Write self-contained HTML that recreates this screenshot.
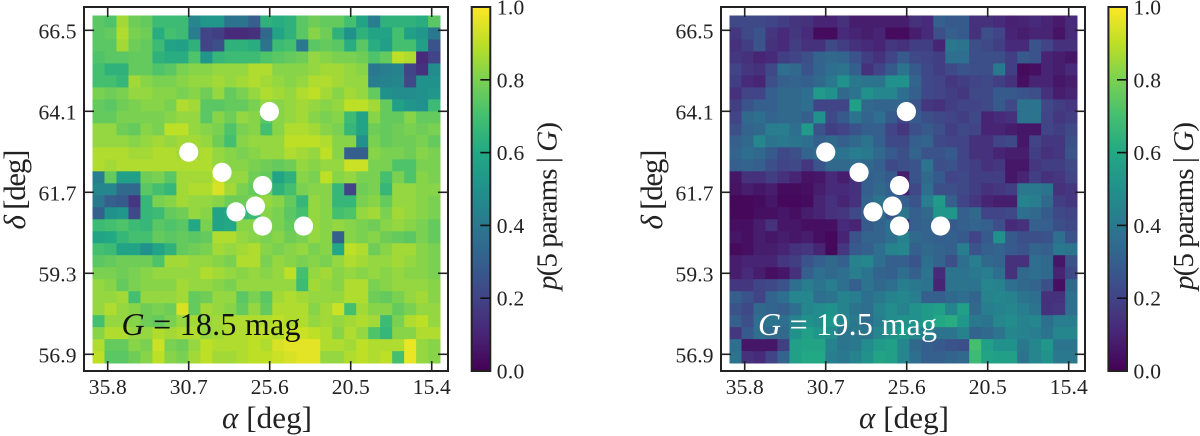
<!DOCTYPE html>
<html lang="en">
<head>
<meta charset="utf-8">
<title>Five-parameter probability maps</title>
<style>
html,body{margin:0;padding:0;background:#fff;}
body{width:1200px;height:436px;overflow:hidden;}
svg{display:block;}
text{font-family:"Liberation Serif",serif;fill:#222;}
.tick{font-size:21.5px;}
.axis{font-size:31px;}
.cb{font-size:29px;}
.note{font-size:32px;}
</style>
</head>
<body>
<svg id="figure" width="1200" height="436" viewBox="0 0 1200 436" xmlns="http://www.w3.org/2000/svg"></svg>
<script>
const alphaTicks = ['35.8', '30.7', '25.6', '20.5', '15.4'];
const deltaTicks = ['66.5', '64.1', '61.7', '59.3', '56.9'];
const colorTicks = ['0.0', '0.2', '0.4', '0.6', '0.8', '1.0'];
const clusterAlpha = [25.62, 30.7, 28.6, 26.05, 26.5, 27.72, 26.05, 23.47];
const clusterDelta = [64.09, 62.89, 62.29, 61.9, 61.29, 61.12, 60.7, 60.7];
const viridisStops = ['#440154','#482475','#414487','#355f8d','#2a788e','#21918c','#22a884','#44bf70','#7ad151','#bddf26','#fde725'];

const mapG185 = [
[74,72,86,78,76,68,68,68,45,52,52,38,38,30,64,62,64,74,78,76,76,70,58,42,64,64,64,62,74],
[74,76,88,80,78,62,70,68,42,20,18,12,12,14,34,58,64,74,82,78,64,50,64,58,58,70,56,52,40],
[74,74,86,78,76,68,58,56,64,20,24,64,64,62,38,68,70,40,74,76,74,62,74,62,56,70,70,56,26],
[72,74,74,76,76,64,62,62,72,52,66,68,68,68,72,74,76,78,84,82,80,80,78,72,76,90,88,12,20],
[70,64,64,76,76,72,74,80,82,82,84,84,84,88,88,82,82,82,84,86,86,84,82,40,42,44,20,14,48],
[70,70,66,86,82,80,80,82,84,84,86,84,86,88,86,84,82,84,88,88,86,84,84,42,44,46,22,50,50],
[80,78,80,84,84,82,82,80,82,78,84,76,80,84,88,86,84,88,90,86,82,86,84,76,50,48,48,50,52],
[76,74,78,80,82,82,80,88,86,74,74,76,76,80,84,82,84,86,84,82,84,90,90,86,76,56,52,50,68],
[76,76,80,80,80,80,82,84,84,74,82,78,84,82,74,82,84,86,82,80,82,68,58,82,76,76,82,76,76],
[84,84,78,76,82,80,90,90,84,82,80,72,80,82,70,82,88,88,86,82,80,66,58,78,76,78,80,78,80],
[84,84,84,82,84,86,84,86,86,84,78,70,82,84,84,84,90,90,90,88,82,82,50,80,76,78,78,80,76],
[88,88,88,86,86,88,88,86,86,88,84,82,80,82,84,84,88,86,84,90,82,30,30,82,80,80,78,82,80],
[88,86,88,88,88,88,88,88,88,88,84,82,82,80,78,76,78,84,82,84,84,92,92,80,80,72,72,80,80],
[42,76,56,56,78,80,74,86,86,86,92,84,84,78,76,58,64,82,80,90,82,84,80,80,70,80,72,82,80],
[46,46,34,34,74,70,66,86,88,88,94,86,80,76,78,64,70,80,82,82,66,20,78,80,66,84,84,82,82],
[40,30,28,16,66,80,82,86,84,84,82,78,78,80,84,82,76,66,84,82,66,66,80,82,76,84,84,82,80],
[30,50,52,22,66,68,76,78,84,82,58,60,66,68,82,80,74,70,84,82,70,72,84,86,80,86,84,82,80],
[68,70,72,68,66,74,72,74,60,80,58,60,82,82,80,80,76,74,84,82,84,82,80,78,82,84,82,80,76],
[58,60,66,70,70,76,74,76,74,76,88,88,84,82,80,82,78,80,84,82,30,82,80,82,78,76,74,80,76],
[70,68,58,58,50,58,64,76,78,80,86,84,86,88,82,80,82,84,80,82,60,90,88,78,82,86,86,82,80],
[74,76,78,78,78,72,86,86,84,84,82,80,88,88,80,84,82,80,82,80,84,88,86,84,84,86,84,82,80],
[80,80,78,80,82,84,84,84,84,88,86,84,82,84,82,84,90,70,84,86,82,84,82,84,82,84,82,82,80],
[84,82,76,80,82,82,82,86,84,84,82,80,84,84,84,84,84,68,86,84,82,88,88,80,82,84,84,84,82],
[84,84,86,70,84,84,84,86,76,78,84,84,74,80,74,86,88,86,84,84,84,88,88,78,76,80,84,86,82],
[84,88,84,82,78,80,78,94,76,86,84,82,76,84,76,88,88,88,82,86,92,70,86,82,82,76,80,84,84],
[70,84,84,82,78,76,80,84,86,84,86,88,88,88,88,90,88,88,84,86,84,86,88,86,68,80,88,90,84],
[82,88,88,84,84,88,86,88,88,84,86,88,88,90,90,88,92,92,90,88,82,88,84,72,66,82,82,88,88],
[88,76,76,82,80,92,80,78,84,90,88,88,88,90,88,94,96,96,96,88,88,86,90,88,88,88,97,84,82],
[90,74,74,78,82,90,82,80,86,90,86,86,88,90,90,92,94,96,96,84,84,88,90,88,90,70,97,84,82]
];

const mapG195 = [
[22,22,22,20,18,15,14,10,10,14,8,8,8,8,8,14,12,30,28,28,14,14,12,9,10,12,10,7,12],
[16,22,26,16,12,16,12,3,3,12,10,8,10,3,3,8,12,24,30,28,14,24,20,10,8,10,10,5,12],
[14,18,26,14,12,18,14,14,22,18,14,12,10,16,14,18,18,10,40,38,24,22,18,12,12,26,20,14,14],
[16,14,10,12,18,20,24,32,34,32,26,18,14,20,28,22,20,18,36,36,24,24,24,18,28,26,10,8,6],
[20,16,14,22,36,34,26,32,36,38,30,14,20,28,38,28,22,18,22,26,24,24,40,18,3,4,10,8,12],
[18,12,10,24,30,32,30,34,40,50,40,38,38,50,50,32,22,20,16,18,20,22,18,14,4,10,10,6,8],
[14,20,20,30,34,34,36,54,50,34,38,50,46,46,36,30,22,20,18,16,22,22,28,28,26,24,14,8,10],
[18,26,30,30,34,34,36,20,20,20,56,34,32,32,34,26,16,14,18,20,20,22,28,22,38,38,22,18,16],
[20,34,36,32,34,34,30,50,22,28,38,32,36,28,20,28,24,22,20,18,22,10,12,14,38,38,20,16,18],
[24,32,34,42,42,36,54,26,18,20,26,30,30,20,16,24,28,24,18,22,20,10,10,8,6,6,20,18,22],
[30,34,46,38,40,38,36,30,34,30,34,38,30,22,22,30,32,22,20,20,14,14,20,22,6,20,16,16,24],
[32,36,34,28,22,24,32,36,38,38,42,40,34,28,24,32,26,26,28,20,14,14,10,8,8,18,14,16,26],
[30,32,30,24,20,22,16,26,34,34,36,34,30,22,24,26,38,24,26,20,18,14,16,6,6,16,18,18,22],
[6,14,14,18,14,10,5,6,12,8,14,30,32,28,8,26,34,28,20,22,18,18,18,6,10,18,14,16,20],
[5,8,6,8,3,3,4,8,12,12,14,30,34,30,8,22,36,24,24,22,18,14,16,18,40,40,38,14,16],
[2,2,3,6,2,2,3,10,14,10,14,32,38,32,30,26,42,54,30,20,16,10,8,8,44,42,34,18,16],
[2,2,4,4,6,4,8,10,14,16,22,30,34,26,38,30,34,52,52,30,34,20,20,22,36,34,28,22,20],
[4,4,8,14,6,6,4,4,4,12,10,28,32,36,10,30,32,26,28,30,32,30,24,12,14,30,30,24,22],
[6,4,8,6,8,6,8,4,2,10,26,32,32,36,44,34,32,30,30,28,20,28,50,28,24,24,26,36,26],
[3,4,8,8,10,14,16,10,2,16,28,30,36,44,46,30,34,32,30,42,26,30,32,28,26,32,30,40,38],
[8,10,10,10,16,18,26,30,34,30,44,46,36,30,30,26,36,32,24,36,42,34,32,14,14,36,34,6,26],
[8,12,8,4,6,14,30,36,34,36,42,38,32,30,36,30,38,12,38,38,40,42,36,14,34,36,34,10,22],
[16,16,20,22,26,36,42,38,42,36,30,38,34,36,42,40,38,10,38,38,38,46,44,36,34,32,24,4,34],
[30,26,20,32,36,46,46,36,38,44,42,36,40,44,46,42,30,30,34,36,32,44,46,44,38,36,14,14,36],
[26,22,34,32,30,36,46,48,50,44,38,36,44,48,44,50,54,56,44,56,34,42,44,46,42,38,14,16,36],
[30,24,36,38,36,44,50,48,52,46,40,36,42,48,50,50,54,60,62,52,40,38,46,48,44,46,36,42,42],
[16,28,36,34,34,50,56,52,48,38,40,38,46,50,52,46,44,38,38,44,32,34,38,46,44,42,38,46,46],
[36,6,6,6,18,56,58,58,44,38,40,48,54,56,46,34,30,28,26,24,70,56,50,50,40,46,52,38,38],
[38,14,12,20,32,56,60,60,42,40,44,50,58,56,46,36,30,30,32,34,68,58,56,56,38,46,50,40,40]
];

const svg = document.getElementById('figure');
const NS = 'http://www.w3.org/2000/svg';
const INK = '#222';

function make(tag, attrs, parent, content) {
  const el = document.createElementNS(NS, tag);
  for (const k in attrs) el.setAttribute(k, attrs[k]);
  if (content !== undefined) el.textContent = content;
  parent.appendChild(el);
  return el;
}

function viridis(v) {
  const t = Math.max(0, Math.min(1, v)) * (viridisStops.length - 1);
  const i = Math.min(Math.floor(t), viridisStops.length - 2);
  const f = t - i;
  const a = viridisStops[i], b = viridisStops[i + 1];
  const ch = (s, p) => parseInt(s.substr(p, 2), 16);
  const mix = p => Math.round(ch(a, p) + (ch(b, p) - ch(a, p)) * f);
  return 'rgb(' + mix(1) + ',' + mix(3) + ',' + mix(5) + ')';
}

function drawPanel(opts) {
  const ox = opts.offset;
  const panel = make('g', {}, svg);
  
  

  const xAt = a => 107.7 + ox + (35.8 - a) * (324 / 20.4);
  const yAt = d => 30.3 + (66.5 - d) * (324 / 9.6);

  const heatLeft = 92.5 + ox, heatTop = 15.5, heatSize = 347.6;
  const rows = opts.values.length;
  opts.values.forEach((row, r) => {
    row.forEach((pct, c) => {
      const x0 = heatLeft + c * heatSize / row.length;
      const y0 = heatTop + r * heatSize / rows;
      const cell = make('rect', {
        x: x0.toFixed(2), y: y0.toFixed(2),
        width: (heatSize / row.length + 0.4).toFixed(2),
        height: (heatSize / rows + 0.4).toFixed(2),
        fill: viridis(pct / 100)
      }, panel);
      
      
    });
  });

  const left = 84 + ox, right = 448 + ox, top = 7, bottom = 371;
  const frame = make('rect', {x: left, y: top, width: right - left, height: bottom - top, fill: 'none', stroke: INK, 'stroke-width': 2}, panel);
  
  

  alphaTicks.forEach(label => {
    const x = xAt(parseFloat(label));
    const tb = make('line', {x1: x, x2: x, y1: bottom, y2: bottom - 10, stroke: INK, 'stroke-width': 1.6}, panel);
    
    
    const tt = make('line', {x1: x, x2: x, y1: top, y2: top + 10, stroke: INK, 'stroke-width': 1.6}, panel);
    
    
    const lab = make('text', {x: x, y: 394, 'text-anchor': 'middle', class: 'tick', textLength: 38, lengthAdjust: 'spacing'}, panel, label);
    
    
  });

  deltaTicks.forEach(label => {
    const y = yAt(parseFloat(label));
    const tl = make('line', {x1: left, x2: left + 10, y1: y, y2: y, stroke: INK, 'stroke-width': 1.6}, panel);
    
    
    const tr = make('line', {x1: right, x2: right - 10, y1: y, y2: y, stroke: INK, 'stroke-width': 1.6}, panel);
    
    
    const lab = make('text', {x: left - 7.5, y: y + 8.3, 'text-anchor': 'end', class: 'tick', textLength: 38, lengthAdjust: 'spacing'}, panel, label);
    
    
  });

  clusterAlpha.forEach((a, i) => {
    const dot = make('circle', {cx: xAt(a).toFixed(2), cy: yAt(clusterDelta[i]).toFixed(2), r: 9.6, fill: '#fff'}, panel);
    
    
  });

  const note = make('text', {x: opts.noteX, y: 335, class: 'note', textLength: 179, lengthAdjust: 'spacing', style: 'fill:' + opts.noteColor}, panel);
  
  
  make('tspan', {'font-style': 'italic', style: 'fill:' + opts.noteColor}, note, 'G');
  make('tspan', {style: 'fill:' + opts.noteColor}, note, ' = ' + opts.mag + ' mag');

  const xTitle = make('text', {x: 267 + ox, y: 428, 'text-anchor': 'middle', class: 'axis', textLength: 90, lengthAdjust: 'spacing'}, panel);
  
  
  make('tspan', {'font-style': 'italic'}, xTitle, 'α');
  make('tspan', {}, xTitle, ' [deg]');

  const yx = 25 + ox, yy = 189.5;
  const yTitle = make('text', {x: yx, y: yy, 'text-anchor': 'middle', class: 'axis', textLength: 80, lengthAdjust: 'spacing', transform: 'rotate(-90 ' + yx + ' ' + yy + ')'}, panel);
  
  
  make('tspan', {'font-style': 'italic'}, yTitle, 'δ');
  make('tspan', {}, yTitle, ' [deg]');

  const cbLeft = opts.cbLeft, cbRight = cbLeft + 18.6;
  const gradId = opts.name + '-gradient';
  const defs = make('defs', {}, panel);
  const grad = make('linearGradient', {id: gradId, x1: 0, y1: 1, x2: 0, y2: 0}, defs);
  viridisStops.forEach((col, i) => {
    make('stop', {offset: i / (viridisStops.length - 1), 'stop-color': col}, grad);
  });
  const bar = make('rect', {x: cbLeft, y: top, width: cbRight - cbLeft, height: bottom - top, fill: 'url(#' + gradId + ')', stroke: INK, 'stroke-width': 2}, panel);
  
  

  const cbY = v => bottom - v * (bottom - top);
  colorTicks.forEach(label => {
    const v = parseFloat(label);
    const y = cbY(v);
    if (v > 0 && v < 1) {
      const t = make('line', {x1: cbRight, x2: cbRight - 10, y1: y, y2: y, stroke: '#111', 'stroke-width': 1.6}, panel);
      
      
    }
    const lab = make('text', {x: cbRight + 6.5, y: y + 7.5, class: 'tick', textLength: 27.5, lengthAdjust: 'spacing'}, panel, label);
    
    
  });

  const cx = cbLeft + 84.8, cy = 206;
  const cbTitle = make('text', {x: cx, y: cy, 'text-anchor': 'middle', class: 'cb', textLength: 168, lengthAdjust: 'spacing', transform: 'rotate(-90 ' + cx + ' ' + cy + ')'}, panel);
  
  
  make('tspan', {'font-style': 'italic'}, cbTitle, 'p');
  make('tspan', {}, cbTitle, '(5 params | ');
  make('tspan', {'font-style': 'italic'}, cbTitle, 'G');
  make('tspan', {}, cbTitle, ')');
}

drawPanel({name: 'map-g-18-5', offset: 0, values: mapG185, mag: '18.5', noteX: 121.5, noteColor: '#111', cbLeft: 471.7});
drawPanel({name: 'map-g-19-5', offset: 637, values: mapG195, mag: '19.5', noteX: 758, noteColor: '#fff', cbLeft: 1108.4});
</script>
</body>
</html>
